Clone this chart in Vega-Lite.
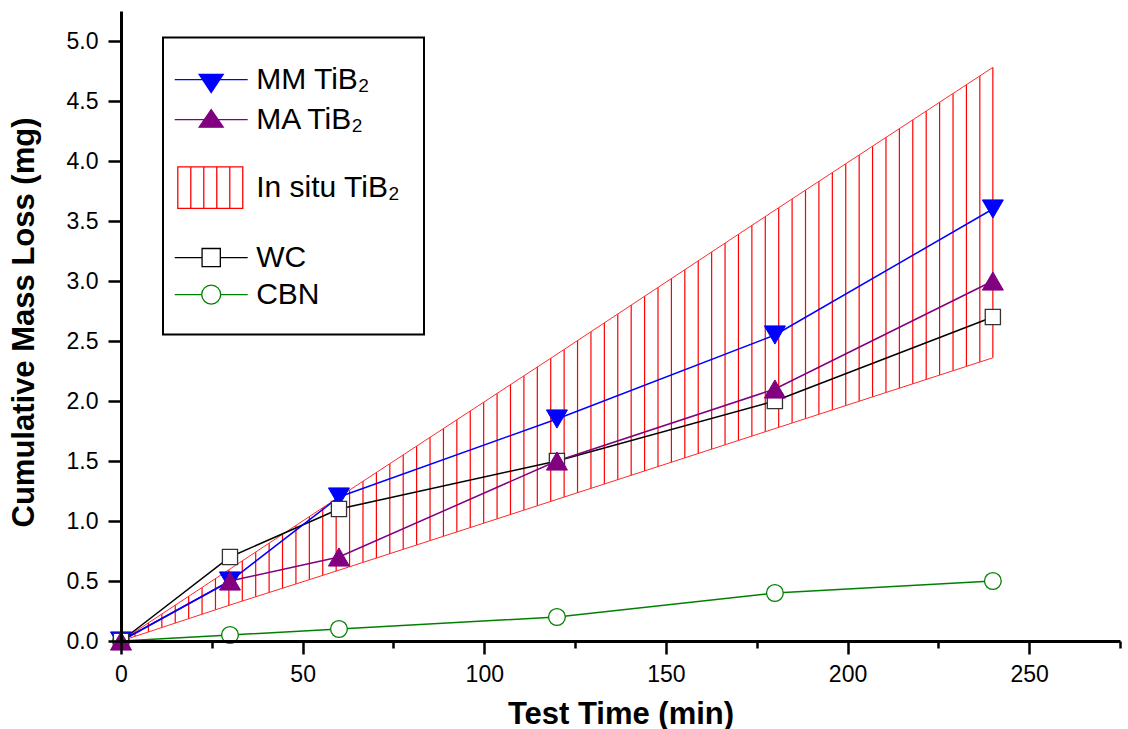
{
  "$schema": "https://vega.github.io/schema/vega-lite/v6.json",
  "width": 999,
  "height": 630,
  "autosize": {"type": "none"},
  "padding": {"left": 121, "top": 11, "right": 8, "bottom": 88},
  "background": "white",
  "config": {
    "view": {"stroke": null},
    "font": "Liberation Sans",
    "legend": {
      "orient": "none",
      "legendX": 42,
      "legendY": 26.6,
      "padding": 23,
      "strokeColor": "black",
      "strokeWidth": 2,
      "fillColor": "white",
      "labelFont": "Liberation Sans",
      "labelFontSize": 30,
      "labelColor": "black",
      "labelOffset": 26,
      "symbolOffset": 6.2,
      "labelLimit": 400,
      "symbolSize": 1332,
      "symbolStrokeWidth": 1.3,
      "symbolOpacity": 1,
      "rowPadding": 0
    }
  },
  "datasets": {
    "series": [
      {"series": "MM", "time": 0, "loss": 0},
      {"series": "MM", "time": 30, "loss": 0.5},
      {"series": "MM", "time": 60, "loss": 1.2},
      {"series": "MM", "time": 120, "loss": 1.85},
      {"series": "MM", "time": 180, "loss": 2.55},
      {"series": "MM", "time": 240, "loss": 3.6},
      {"series": "MA", "time": 0, "loss": 0},
      {"series": "MA", "time": 30, "loss": 0.5},
      {"series": "MA", "time": 60, "loss": 0.7},
      {"series": "MA", "time": 120, "loss": 1.5},
      {"series": "MA", "time": 180, "loss": 2.1},
      {"series": "MA", "time": 240, "loss": 3.0},
      {"series": "WC", "time": 0, "loss": 0},
      {"series": "WC", "time": 30, "loss": 0.7},
      {"series": "WC", "time": 60, "loss": 1.1},
      {"series": "WC", "time": 120, "loss": 1.5},
      {"series": "WC", "time": 180, "loss": 2.0},
      {"series": "WC", "time": 240, "loss": 2.7},
      {"series": "CBN", "time": 0, "loss": 0},
      {"series": "CBN", "time": 30, "loss": 0.05},
      {"series": "CBN", "time": 60, "loss": 0.1},
      {"series": "CBN", "time": 120, "loss": 0.2},
      {"series": "CBN", "time": 180, "loss": 0.4},
      {"series": "CBN", "time": 240, "loss": 0.5}
    ],
    "band": [
      {"time": 0, "lower": 0, "upper": 0},
      {"time": 30, "lower": 0.3, "upper": 0.6},
      {"time": 60, "lower": 0.59, "upper": 1.2},
      {"time": 120, "lower": 1.18, "upper": 2.39},
      {"time": 180, "lower": 1.77, "upper": 3.59},
      {"time": 240, "lower": 2.36, "upper": 4.78}
    ],
    "legend": [
      {"series": "MM TiB₂"},
      {"series": "MA TiB₂"},
      {"series": "In situ TiB₂"},
      {"series": "WC"},
      {"series": "CBN"}
    ]
  },
  "layer": [
    {
      "data": {"values": [{}]},
      "mark": {"type": "rule", "color": "#ff0000", "strokeWidth": 573.6, "strokeDash": [1.2, 12.21], "strokeCap": "butt"},
      "encoding": {
        "x": {
          "datum": 0, "type": "quantitative",
          "scale": {"domain": [0, 275], "nice": false, "zero": false},
          "axis": {
            "title": "Test Time (min)",
            "values": [0, 25, 50, 75, 100, 125, 150, 175, 200, 225, 250, 275],
            "format": "d",
            "labelExpr": "datum.value % 50 == 0 ? datum.label : ''",
            "tickSize": {"condition": {"test": "datum.value % 50 == 0", "value": 13}, "value": 7},
            "tickWidth": 2.5, "tickColor": "black",
            "domainColor": "black", "domainWidth": 3,
            "labelFont": "Liberation Sans", "labelFontSize": 23, "labelColor": "black",
            "labelPadding": 9, "labelFlush": false, "labelOverlap": false,
            "titleFont": "Liberation Sans", "titleFontSize": 31, "titleFontWeight": "bold", "titleColor": "black",
            "titleBaseline": "alphabetic", "titleAlign": "center", "titleX": 499.5, "titleY": 82,
            "grid": false, "zindex": 1
          }
        },
        "x2": {"datum": 239.8},
        "y": {
          "datum": 2.39, "type": "quantitative",
          "scale": {"domain": [0, 5.25], "nice": false, "zero": false},
          "axis": {
            "title": "Cumulative Mass Loss (mg)",
            "values": [0, 0.25, 0.5, 0.75, 1, 1.25, 1.5, 1.75, 2, 2.25, 2.5, 2.75, 3, 3.25, 3.5, 3.75, 4, 4.25, 4.5, 4.75, 5, 5.25],
            "format": ".1f",
            "labelExpr": "round(datum.value*100) % 50 == 0 ? datum.label : ''",
            "tickSize": {"condition": {"test": "round(datum.value*100) % 50 == 0", "value": 13}, "value": 7},
            "tickWidth": 2.5, "tickColor": "black",
            "domainColor": "black", "domainWidth": 3,
            "labelFont": "Liberation Sans", "labelFontSize": 23, "labelColor": "black",
            "labelPadding": 10, "labelFlush": false, "labelOverlap": false,
            "titleFont": "Liberation Sans", "titleFontSize": 31, "titleFontWeight": "bold", "titleColor": "black",
            "titleBaseline": "alphabetic", "titleAlign": "center", "titleAngle": -90, "titleX": -88, "titleY": 311,
            "grid": false, "zindex": 1
          }
        }
      }
    },
    {
      "data": {"name": "band"},
      "mark": {"type": "area", "color": "white", "opacity": 1},
      "encoding": {
        "x": {"field": "time", "type": "quantitative"},
        "y": {"field": "upper", "type": "quantitative"},
        "y2": {"datum": 4.86}
      }
    },
    {
      "data": {"name": "band"},
      "mark": {"type": "area", "color": "white", "opacity": 1},
      "encoding": {
        "x": {"field": "time", "type": "quantitative"},
        "y": {"field": "lower", "type": "quantitative"},
        "y2": {"datum": -0.04}
      }
    },
    {
      "data": {"name": "band"},
      "mark": {"type": "line", "color": "#ff2a2a", "strokeWidth": 1},
      "encoding": {
        "x": {"field": "time", "type": "quantitative"},
        "y": {"field": "upper", "type": "quantitative"}
      }
    },
    {
      "data": {"name": "band"},
      "mark": {"type": "line", "color": "#ff2a2a", "strokeWidth": 1},
      "encoding": {
        "x": {"field": "time", "type": "quantitative"},
        "y": {"field": "lower", "type": "quantitative"}
      }
    },
    {
      "data": {"name": "band"},
      "transform": [{"filter": "datum.time == 240"}],
      "mark": {"type": "rule", "color": "#ff0000", "strokeWidth": 1.2},
      "encoding": {
        "x": {"field": "time", "type": "quantitative"},
        "y": {"field": "lower", "type": "quantitative"},
        "y2": {"field": "upper"}
      }
    },
    {
      "data": {"name": "series"},
      "transform": [{"filter": "datum.series == 'CBN'"}],
      "mark": {"type": "line", "color": "#008000", "strokeWidth": 1.5},
      "encoding": {
        "x": {"field": "time", "type": "quantitative"},
        "y": {"field": "loss", "type": "quantitative"}
      }
    },
    {
      "data": {"name": "series"},
      "transform": [{"filter": "datum.series == 'WC'"}],
      "mark": {"type": "line", "color": "#000000", "strokeWidth": 1.5},
      "encoding": {
        "x": {"field": "time", "type": "quantitative"},
        "y": {"field": "loss", "type": "quantitative"}
      }
    },
    {
      "data": {"name": "series"},
      "transform": [{"filter": "datum.series == 'MA'"}],
      "mark": {"type": "line", "color": "#800080", "strokeWidth": 1.5},
      "encoding": {
        "x": {"field": "time", "type": "quantitative"},
        "y": {"field": "loss", "type": "quantitative"}
      }
    },
    {
      "data": {"name": "series"},
      "transform": [{"filter": "datum.series == 'MM'"}],
      "mark": {"type": "line", "color": "#0000ff", "strokeWidth": 1.5},
      "encoding": {
        "x": {"field": "time", "type": "quantitative"},
        "y": {"field": "loss", "type": "quantitative"}
      }
    },
    {
      "data": {"name": "series"},
      "transform": [{"filter": "datum.series == 'CBN'"}],
      "mark": {"type": "point", "shape": "circle", "size": 280, "filled": true, "fill": "white", "stroke": "#008000", "strokeWidth": 1.3, "opacity": 1},
      "encoding": {
        "x": {"field": "time", "type": "quantitative"},
        "y": {"field": "loss", "type": "quantitative"}
      }
    },
    {
      "data": {"name": "series"},
      "transform": [{"filter": "datum.series == 'MM'"}],
      "mark": {"type": "point", "shape": "triangle-down", "size": 441, "filled": true, "fill": "#0000ff", "stroke": "#0000ff", "strokeWidth": 1, "opacity": 1},
      "encoding": {
        "x": {"field": "time", "type": "quantitative"},
        "y": {"field": "loss", "type": "quantitative"}
      }
    },
    {
      "data": {"name": "series"},
      "transform": [{"filter": "datum.series == 'WC'"}],
      "mark": {"type": "point", "shape": "square", "size": 230, "filled": true, "fill": "white", "stroke": "#333333", "strokeWidth": 1.3, "opacity": 1},
      "encoding": {
        "x": {"field": "time", "type": "quantitative"},
        "y": {"field": "loss", "type": "quantitative"}
      }
    },
    {
      "data": {"name": "series"},
      "transform": [{"filter": "datum.series == 'MA'"}],
      "mark": {"type": "point", "shape": "triangle-up", "size": 441, "filled": true, "fill": "#800080", "stroke": "#800080", "strokeWidth": 1, "opacity": 1},
      "encoding": {
        "x": {"field": "time", "type": "quantitative"},
        "y": {"field": "loss", "type": "quantitative"}
      }
    },
    {
      "data": {"name": "legend"},
      "mark": {"type": "point", "filled": true, "opacity": 0},
      "encoding": {
        "shape": {
          "field": "series", "type": "nominal",
          "scale": {
            "domain": ["MM TiB₂", "MA TiB₂", "In situ TiB₂", "WC", "CBN"],
            "range": [
              "M-2.15,-1.096M-2.15,0.953M-2,0H2M-0.658,-0.29L0.658,-0.29L0,0.71Z",
              "M-2.15,-0.953M-2.15,1.696M-2,0H2M0,-0.548L0.658,0.416L-0.658,0.416Z",
              "M-2.15,-1.696M-2.15,1.723M-1.83,-1.14H1.73V1.14H-1.83ZM-1.118,-1.14V1.14M-0.406,-1.14V1.14M0.306,-1.14V1.14M1.018,-1.14V1.14",
              "M-2.15,-1.723M-2.15,0.805M-2,0H-0.5M0.5,0H2M-0.5,-0.5H0.5V0.5H-0.5Z",
              "M-2.15,-0.805M-2.15,0.756M-2,0H-0.52M0.52,0H2M-0.52,0A0.52,0.52 0 1,0 0.52,0A0.52,0.52 0 1,0 -0.52,0Z"
            ]
          },
          "legend": {"title": null}
        },
        "stroke": {
          "field": "series", "type": "nominal",
          "scale": {
            "domain": ["MM TiB₂", "MA TiB₂", "In situ TiB₂", "WC", "CBN"],
            "range": ["#0000ff", "#800080", "#ff0000", "#000000", "#008000"]
          },
          "legend": {"title": null}
        },
        "fill": {
          "field": "series", "type": "nominal",
          "scale": {
            "domain": ["MM TiB₂", "MA TiB₂", "In situ TiB₂", "WC", "CBN"],
            "range": ["#0000ff", "#800080", "#ffffff", "#ffffff", "#ffffff"]
          },
          "legend": {"title": null}
        }
      }
    }
  ]
}
